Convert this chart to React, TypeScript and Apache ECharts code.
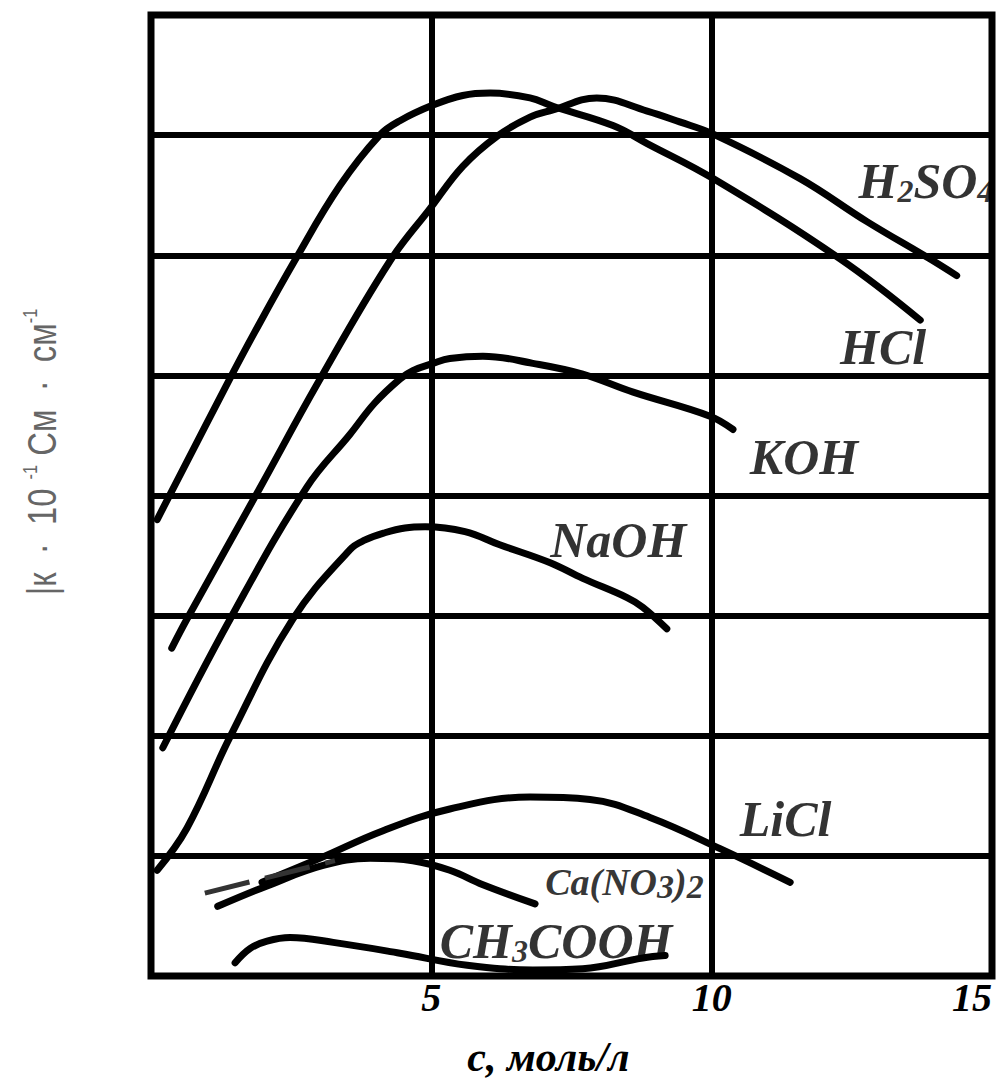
import React, { useEffect, useRef } from "react";
import * as echarts from "echarts";

// x: c, mol/L ; y: grid units (8 divisions, unlabelled)
const xTickValues = [0, 5, 10, 15];

const hcl: [number, number][] = [
  [0.11, 3.8], [1.37, 4.94], [1.85, 5.36], [2.57, 5.96], [3.37, 6.58], [4.08, 7.0],
  [4.44, 7.12], [5.03, 7.25], [5.56, 7.33], [6.05, 7.35], [6.76, 7.31], [7.17, 7.24],
  [8.24, 7.08], [8.85, 6.93], [10.02, 6.64], [12.29, 5.97], [13.72, 5.46],
];
const h2so4: [number, number][] = [
  [0.37, 2.73], [0.64, 2.97], [1.94, 4.06], [2.98, 4.94], [4.26, 5.95], [4.98, 6.39],
  [5.56, 6.74], [6.17, 6.99], [6.76, 7.15], [7.17, 7.21], [7.95, 7.31], [8.85, 7.2],
  [9.43, 7.11], [10.02, 7.01], [11.57, 6.64], [12.77, 6.28], [13.89, 5.97], [14.37, 5.83],
];
const koh: [number, number][] = [
  [0.21, 1.9], [1.41, 2.97], [2.78, 4.07], [3.55, 4.51], [3.99, 4.77], [4.44, 4.97],
  [4.67, 5.04], [5.03, 5.1], [5.33, 5.14], [5.92, 5.16], [6.81, 5.1], [7.7, 5.01],
  [8.6, 4.86], [9.97, 4.66], [10.38, 4.55],
];
const naoh: [number, number][] = [
  [0.11, 0.88], [0.64, 1.23], [1.41, 1.99], [2.53, 2.97], [3.55, 3.55], [3.82, 3.63],
  [4.17, 3.69], [4.53, 3.73], [4.89, 3.74], [5.6, 3.7], [6.22, 3.59], [7.12, 3.44],
  [7.7, 3.31], [8.49, 3.15], [8.77, 3.07], [9.2, 2.89],
];
const licl: [number, number][] = [
  [1.98, 0.78], [3.01, 0.98], [4.14, 1.21], [5.33, 1.39], [6.76, 1.49], [7.83, 1.47],
  [8.9, 1.32], [10.15, 1.06], [11.4, 0.78],
];
const caNO3: [number, number][] = [
  [1.19, 0.58], [2.07, 0.75], [3.07, 0.92], [3.91, 0.98], [4.67, 0.96], [5.33, 0.88],
  [5.92, 0.76], [6.85, 0.6],
];
const caNO3Trace: [number, number][] = [
  [0.96, 0.69], [3.28, 0.96],
];
const ch3cooh: [number, number][] = [
  [1.5, 0.11], [1.77, 0.23], [2.07, 0.29], [2.48, 0.32], [3.25, 0.28], [4.44, 0.19],
  [5.64, 0.09], [6.81, 0.05], [7.7, 0.06], [8.77, 0.15], [9.17, 0.17],
];

const curveNames = ["H2SO4", "HCl", "KOH", "NaOH", "LiCl", "Ca(NO3)2", "CH3COOH"];
const curveLabels = [
  "{n|H}{s|2}{n|SO}{s|4}",
  "{n|HCl}",
  "{n|KOH}",
  "{n|NaOH}",
  "{n|LiCl}",
  "{m|Ca(NO}{t|3}{m|)}{t|2}",
  "{n|CH}{s|3}{n|COOH}",
];
// label anchor (left edge, vertical middle) in data coordinates
const labelAnchors: [number, number][] = [
  [12.62, 6.62], [12.29, 5.24], [10.68, 4.32], [7.12, 3.63], [10.5, 1.31], [7.03, 0.78], [5.15, 0.29],
];

const yAxisTitle = "{a||к  ·  10 }{b|-1}{a| См  ·  см}{b|-1}";
const xAxisTitle = "с, моль/л";

const SERIF = '"Liberation Serif", "Times New Roman", serif';
const SANS = '"Liberation Sans", Arial, sans-serif';

export default function App() {
  const ref = useRef<HTMLDivElement>(null);
  useEffect(() => {
    if (!ref.current) return;
    const chart = echarts.init(ref.current, undefined, { renderer: "svg" });
    const lineBase = (data: [number, number][], name: string) => ({
      type: "line",
      name,
      data,
      smooth: 0.4,
      symbol: "none",
      clip: false,
      lineStyle: { color: "#000", width: 7, cap: "round", join: "round" },
      z: 3,
    });
    const serif = { fontFamily: SERIF, fontStyle: "italic", fontWeight: "bold", color: "#000" };
    chart.setOption({
      animation: false,
      backgroundColor: "#fff",
      grid: {
        left: 151,
        right: 13,
        top: 15,
        bottom: 82,
        show: true,
        borderColor: "#000",
        borderWidth: 7,
      },
      xAxis: {
        type: "value",
        min: 0,
        max: 15,
        interval: 5,
        axisLine: { show: false },
        axisTick: { show: false },
        splitLine: { show: true, lineStyle: { color: "#000", width: 6 } },
        axisLabel: {
          ...serif,
          fontSize: 40,
          margin: 1,
          alignMaxLabel: "right",
          formatter: (v: number) => (xTickValues.includes(v) && v !== 0 ? String(v) : ""),
        },
        name: xAxisTitle,
        nameLocation: "middle",
        nameGap: 60,
        nameTextStyle: { ...serif, fontSize: 42, padding: [0, 46, 0, 0] },
      },
      yAxis: {
        type: "value",
        min: 0,
        max: 8,
        interval: 1,
        axisLine: { show: false },
        axisTick: { show: false },
        axisLabel: { show: false },
        splitLine: { show: true, lineStyle: { color: "#000", width: 6 } },
      },
      graphic: [
        {
          type: "text",
          x: 42,
          y: 452,
          rotation: Math.PI / 2,
          scaleX: 0.82,
          style: {
            text: yAxisTitle,
            align: "center",
            verticalAlign: "middle",
            rich: {
              a: { fontFamily: SANS, fontSize: 40, fill: "#666", lineHeight: 44 },
              b: { fontFamily: SANS, fontSize: 20, fill: "#666", lineHeight: 20, verticalAlign: "top" },
            },
          },
        },
      ],
      series: [
        lineBase(h2so4, curveNames[0]),
        lineBase(hcl, curveNames[1]),
        lineBase(koh, curveNames[2]),
        lineBase(naoh, curveNames[3]),
        lineBase(licl, curveNames[4]),
        lineBase(caNO3, curveNames[5]),
        lineBase(ch3cooh, curveNames[6]),
        {
          type: "line",
          name: "Ca(NO3)2 trace",
          data: caNO3Trace,
          symbol: "none",
          lineStyle: { color: "#333", width: 5, type: [46, 16] },
          z: 3,
        },
        {
          type: "scatter",
          name: "labels",
          symbolSize: 0,
          data: labelAnchors.map((p, i) => ({ value: p, name: curveNames[i] })),
          z: 4,
          label: {
            show: true,
            position: "right",
            distance: 0,
            formatter: (p: any) => curveLabels[p.dataIndex],
            rich: {
              n: { ...serif, fontSize: 50, lineHeight: 52 },
              s: { ...serif, fontSize: 32, lineHeight: 20, verticalAlign: "bottom" },
              m: { ...serif, fontSize: 38, lineHeight: 42 },
              t: { ...serif, fontSize: 34, lineHeight: 22, verticalAlign: "bottom" },
            },
          },
        },
      ],
    });
    return () => chart.dispose();
  }, []);
  return (
    <div
      ref={ref}
      style={{ position: "absolute", left: 0, top: 0, width: 1005, height: 1083, background: "#fff" }}
    />
  );
}
